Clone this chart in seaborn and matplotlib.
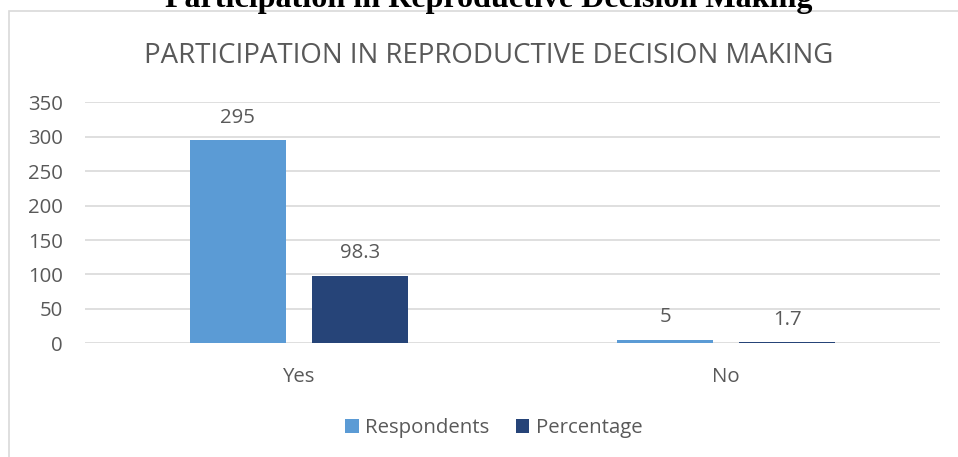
import matplotlib
matplotlib.use("Agg")
import matplotlib.pyplot as plt
import seaborn as sns
import pandas as pd
from matplotlib.patches import Rectangle

# Survey results
responses = ["Yes", "No"]
respondents = [295, 5]
percentage = [98.3, 1.7]
series_names = ["Respondents", "Percentage"]
y_ticks = [0, 50, 100, 150, 200, 250, 300, 350]

df = pd.DataFrame({
    "Response": responses * 2,
    "Value": respondents + percentage,
    "Series": [series_names[0]] * len(responses) + [series_names[1]] * len(responses),
})

sns.set_theme(style="white")
plt.rcParams["font.family"] = ["Open Sans", "DejaVu Sans"]

text_grey = "#595959"
grid_grey = "#D9D9D9"
colors = ["#5B9BD5", "#264478"]
fs = 14.7

fig = plt.figure(figsize=(9.58, 4.57), dpi=100)
fig.patch.set_facecolor("white")

# Outer chart frame
fig.add_artist(Rectangle((9 / 958, -0.05), 1.1, 1 - 11 / 457 + 0.05,
                         transform=fig.transFigure, facecolor="none",
                         edgecolor=grid_grey, linewidth=1.2))

ax = fig.add_axes([85 / 958, (457 - 343.3) / 457, 855 / 958, 241 / 457])
sns.barplot(data=df, x="Response", y="Value", hue="Series", palette=colors,
            width=0.57, gap=0.21, saturation=1, linewidth=0, ax=ax, legend=True)

ax.set_ylim(0, 350)
ax.set_yticks(y_ticks)
ax.set_xlim(-0.5, 1.5)
ax.yaxis.grid(True, color=grid_grey, linewidth=1.2)
ax.set_axisbelow(True)
for side in ["top", "right", "left", "bottom"]:
    ax.spines[side].set_visible(False)
ax.tick_params(axis="both", length=0, labelsize=fs, labelcolor=text_grey)
ax.tick_params(axis="y", pad=16)
ax.tick_params(axis="x", pad=17)
ax.set_xlabel("")
ax.set_ylabel("")

for container in ax.containers:
    ax.bar_label(container, fmt="%g", padding=9, fontsize=fs, color=text_grey)

handles, labels = ax.get_legend_handles_labels()
ax.get_legend().remove()
fig.legend(handles, labels, loc="center", bbox_to_anchor=(493.5 / 958, 1 - 428 / 457),
           ncol=2, frameon=False, fontsize=fs, labelcolor=text_grey,
           handlelength=0.68, handleheight=0.68, handletextpad=0.3,
           columnspacing=1.3)

# Chart title inside the frame
fig.text(489 / 958, 1 - 56 / 457, "PARTICIPATION IN REPRODUCTIVE DECISION MAKING",
         ha="center", va="center", fontsize=19.9, color=text_grey)

# Document caption above the frame
fig.text(488.5 / 958, 1 - 7 / 457, "Participation in Reproductive Decision Making",
         ha="center", va="baseline", fontsize=23.1, fontweight="bold",
         family=["Liberation Serif", "DejaVu Serif"], color="black")

fig.savefig("out.png", dpi=100, facecolor="white")
